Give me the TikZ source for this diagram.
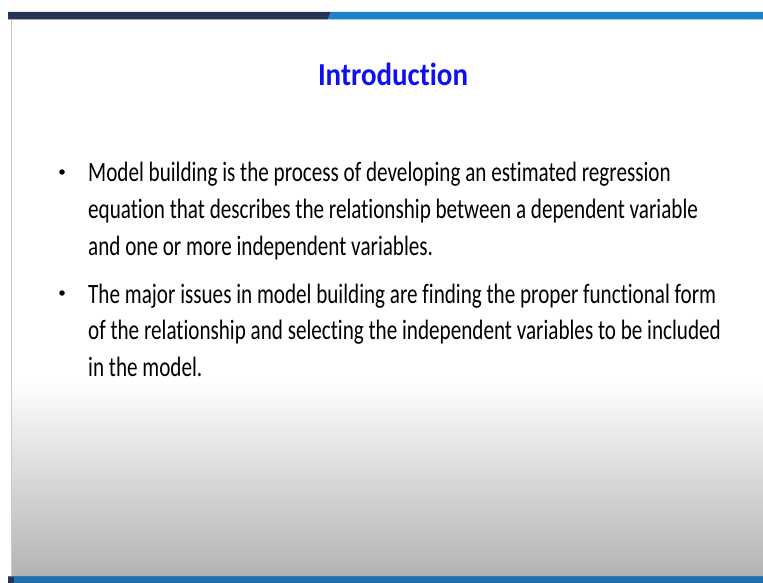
\documentclass[tikz,border=0pt]{standalone}
\usepackage{fontspec}
\setmainfont{Carlito}
\newfontfamily\slidefont{Carlito}[FakeStretch=0.755, Ligatures=NoCommon]
\newfontfamily\headfont{Carlito}[FakeStretch=0.905, Ligatures=NoCommon]
\usetikzlibrary{positioning}
\definecolor{navybar}{HTML}{283358}
\definecolor{bluebar}{HTML}{1E80C6}
\definecolor{footbar}{HTML}{1B6FB2}
\definecolor{titleblue}{HTML}{1010EE}
\definecolor{edgegray}{HTML}{C8C8C8}
\definecolor{shadegray}{HTML}{B3B3B3}

\begin{document}
\begin{tikzpicture}[
        x=1pt, y=-1pt,
        title/.style={text=titleblue, font=\headfont\bfseries\fontsize{32}{36}\selectfont, inner sep=0pt, anchor=base},
        bodyline/.style={font=\slidefont\fontsize{28}{32}\selectfont, inner sep=0pt, anchor=base west},
        bullet/.style={circle, fill=black, inner sep=0pt, minimum size=5.5pt}
    ]

    \useasboundingbox (0,0) rectangle (763,583);
    \fill[white] (0,0) rectangle (763,583);

    % slide page with shading towards the bottom
    \shade[top color=white, bottom color=shadegray] (11,380) rectangle (763,576);
    \draw[edgegray, line width=1pt] (11.5,20) -- (11.5,576);

    % header bar
    \fill[navybar] (8,12) -- (331,12) -- (328,19) -- (8,19) -- cycle;
    \fill[bluebar] (331,12) -- (763,12) -- (763,19) -- (328,19) -- cycle;
    \fill[navybar!40] (8,19) rectangle (328,20);
    \fill[bluebar!40] (328,19) rectangle (763,20);

    % footer bar
    \fill[footbar!70!gray] (8,576) rectangle (763,577);
    \fill[footbar] (8,577) rectangle (763,583);
    \fill[navybar] (8,577) rectangle (14,583);

    \node[title] (head) at (393,86) {Introduction};

    \node[bullet] (b1) at (62,172) {};
    \node[bullet] (b2) at (62,293) {};

    \node[bodyline] (p1a) at (88,182) {Model building is the process of developing an estimated regression};
    \node[bodyline] (p1b) at (88,218) {equation that describes the relationship between a dependent variable};
    \node[bodyline] (p1c) at (88,255) {and one or more independent variables.};

    \node[bodyline] (p2a) at (88,303) {The major issues in model building are finding the proper functional form};
    \node[bodyline] (p2b) at (88,339) {of the relationship and selecting the independent variables to be included};
    \node[bodyline] (p2c) at (88,376) {in the model.};

\end{tikzpicture}
\end{document}
